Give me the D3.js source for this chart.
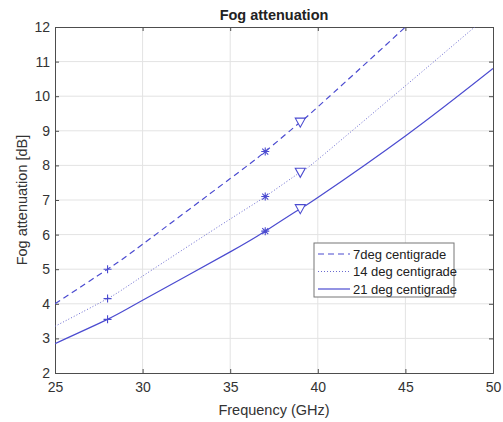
<!DOCTYPE html>
<html>
<head>
<meta charset="utf-8">
<script src="https://cdn.jsdelivr.net/npm/d3@7"></script>
<style>
  body { margin: 0; background: #fff; }
  svg { font-family: "Liberation Sans", Arial, sans-serif; }
</style>
</head>
<body>
<div id="chart"></div>
<script>
// frequency samples (GHz) and attenuation (dB)
const freq = [25, 28, 30, 35, 37, 39, 40, 45, 50];
const att7 = [4.0, 5.0, 5.72, 7.62, 8.4, 9.25, 9.69, 12.0, 14.4];
const att14 = [3.35, 4.15, 4.8, 6.45, 7.1, 7.8, 8.17, 10.3, 12.45];
const att21 = [2.85, 3.55, 4.1, 5.5, 6.1, 6.75, 7.07, 8.85, 10.8];

// marker positions
const plusF = 28, starF = 37, triF = 39;
const plusVals = [5.0, 4.15, 3.55];
const starVals = [8.4, 7.1, 6.1];
const triVals = [9.25, 7.8, 6.75];

const legendLabels = ['7deg centigrade', '14 deg centigrade', '21 deg centigrade'];
const xTicks = [25, 30, 35, 40, 45, 50];
const yTicks = [2, 3, 4, 5, 6, 7, 8, 9, 10, 11, 12];

const W = 503, H = 422;
const margin = { left: 55, right: 10, top: 27, bottom: 49 };
const blue = '#4b4bd0';

const svg = d3.select('#chart').append('svg')
    .attr('width', W).attr('height', H);

const x = d3.scaleLinear().domain([25, 50]).range([margin.left, W - margin.right]);
const y = d3.scaleLinear().domain([2, 12]).range([H - margin.bottom, margin.top]);

svg.append('defs').append('clipPath').attr('id', 'clip')
    .append('rect')
    .attr('x', x(25)).attr('y', y(12))
    .attr('width', x(50) - x(25)).attr('height', y(2) - y(12));

// grid
const grid = svg.append('g');
grid.selectAll('.gx').data(xTicks.slice(1, -1)).enter().append('line')
    .attr('x1', d => x(d)).attr('x2', d => x(d))
    .attr('y1', y(2)).attr('y2', y(12))
    .attr('stroke', '#e3e3e3').attr('stroke-width', 1);
grid.selectAll('.gy').data(yTicks.slice(1, -1)).enter().append('line')
    .attr('y1', d => y(d)).attr('y2', d => y(d))
    .attr('x1', x(25)).attr('x2', x(50))
    .attr('stroke', '#e3e3e3').attr('stroke-width', 1);

// axes
const axisColor = '#4d4d4d';
const xAxis = svg.append('g')
    .attr('transform', `translate(0,${y(2)})`)
    .call(d3.axisBottom(x).tickValues(xTicks).tickSize(-4).tickPadding(9));
const yAxis = svg.append('g')
    .attr('transform', `translate(${x(25)},0)`)
    .call(d3.axisLeft(y).tickValues(yTicks).tickSize(-4).tickPadding(5));
const xTop = svg.append('g')
    .attr('transform', `translate(0,${y(12)})`)
    .call(d3.axisTop(x).tickValues(xTicks).tickSize(-4).tickFormat(''));
const yRight = svg.append('g')
    .attr('transform', `translate(${x(50)},0)`)
    .call(d3.axisRight(y).tickValues(yTicks).tickSize(-4).tickFormat(''));
[xAxis, yAxis, xTop, yRight].forEach(g => {
    g.select('.domain').attr('stroke', axisColor);
    g.selectAll('.tick line').attr('stroke', axisColor);
    g.selectAll('.tick text').attr('fill', '#333').style('font-size', '14px');
});

// curves
const series = [
    { vals: att7, dash: '6,4' },
    { vals: att14, dash: '1,2' },
    { vals: att21, dash: null }
];
const line = d3.line()
    .x(d => x(d[0])).y(d => y(d[1]))
    .curve(d3.curveNatural);
const plot = svg.append('g').attr('clip-path', 'url(#clip)');
series.forEach(s => {
    plot.append('path')
        .attr('d', line(freq.map((f, i) => [f, s.vals[i]])))
        .attr('fill', 'none')
        .attr('stroke', s.dash === '1,2' ? '#6a6ad0' : blue)
        .attr('stroke-width', s.dash === '1,2' ? 1 : 1.2)
        .attr('stroke-dasharray', s.dash);
});

// markers
const mk = svg.append('g').attr('stroke', blue).attr('fill', 'none').attr('stroke-width', 1.1);
plusVals.forEach(v => {
    const cx = x(plusF), cy = y(v);
    mk.append('path').attr('d', `M${cx - 4},${cy}H${cx + 4}M${cx},${cy - 4}V${cy + 4}`);
});
starVals.forEach(v => {
    const cx = x(starF), cy = y(v);
    mk.append('path').attr('d',
        `M${cx - 4},${cy}H${cx + 4}M${cx},${cy - 4}V${cy + 4}` +
        `M${cx - 3},${cy - 3}L${cx + 3},${cy + 3}M${cx - 3},${cy + 3}L${cx + 3},${cy - 3}`);
});
triVals.forEach(v => {
    const cx = x(triF), cy = y(v);
    mk.append('path').attr('d', `M${cx - 5},${cy - 4}L${cx + 5},${cy - 4}L${cx},${cy + 5}Z`)
        .attr('fill', '#fff');
});

// title and labels
svg.append('text')
    .attr('x', (x(25) + x(50)) / 2).attr('y', 20)
    .attr('text-anchor', 'middle')
    .style('font-size', '14.5px').style('font-weight', 'bold')
    .attr('fill', '#222')
    .text('Fog attenuation');
svg.append('text')
    .attr('x', (x(25) + x(50)) / 2).attr('y', 415)
    .attr('text-anchor', 'middle')
    .style('font-size', '14.5px').attr('fill', '#333')
    .text('Frequency (GHz)');
svg.append('text')
    .attr('transform', `translate(27,${(y(2) + y(12)) / 2}) rotate(-90)`)
    .attr('text-anchor', 'middle')
    .style('font-size', '14.5px').attr('fill', '#333')
    .text('Fog attenuation [dB]');

// legend
const lg = svg.append('g').attr('transform', 'translate(314,243)');
lg.append('rect').attr('width', 140).attr('height', 54)
    .attr('fill', '#fff').attr('stroke', '#777').attr('stroke-width', 1);
legendLabels.forEach((t, i) => {
    const ly = 11 + i * 17.5;
    lg.append('line')
        .attr('x1', 4).attr('x2', 36).attr('y1', ly).attr('y2', ly)
        .attr('stroke', series[i].dash === '1,2' ? '#6a6ad0' : blue)
        .attr('stroke-width', series[i].dash === '1,2' ? 1 : 1.2)
        .attr('stroke-dasharray', series[i].dash);
    lg.append('text')
        .attr('x', 39).attr('y', ly + 4.5)
        .style('font-size', '13px').attr('fill', '#222')
        .text(t);
});
</script>
</body>
</html>
